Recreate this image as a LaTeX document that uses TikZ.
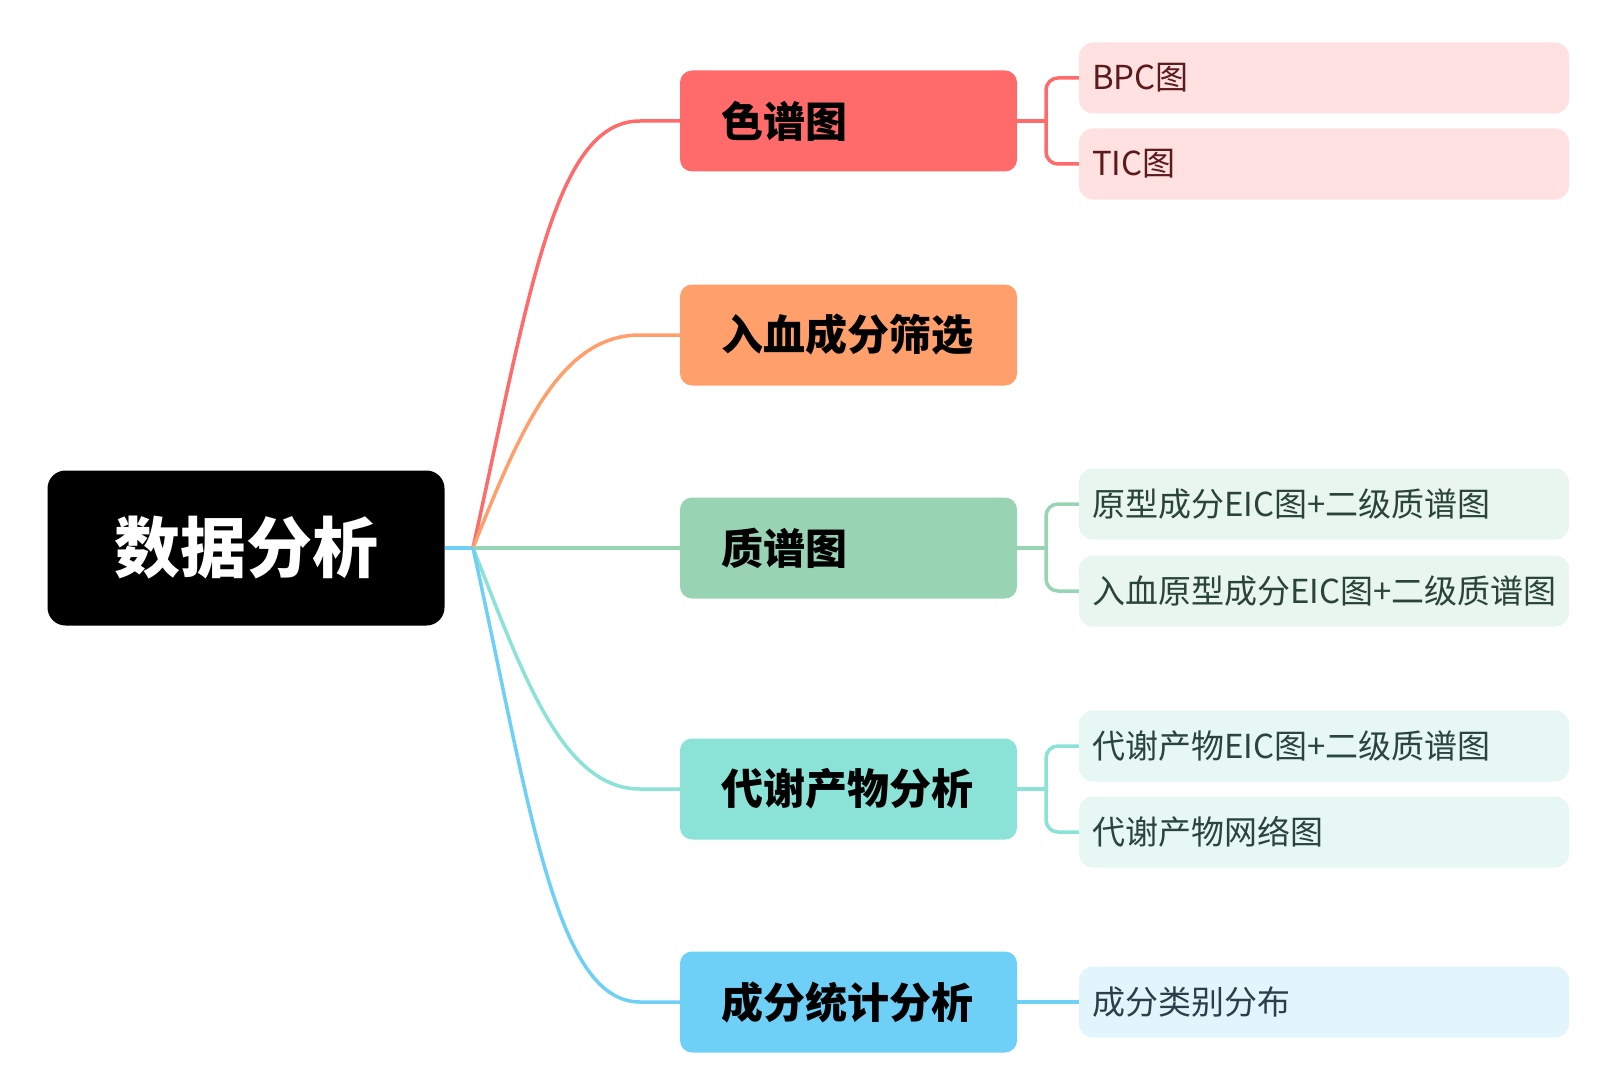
\documentclass[tikz,border=0pt]{standalone}
\usepackage{fontspec}
\setmainfont{Noto Sans CJK SC}
\definecolor{cRed}{HTML}{FF6B6B}
\definecolor{cOrange}{HTML}{FF9F6B}
\definecolor{cGreen}{HTML}{98D4B4}
\definecolor{cTeal}{HTML}{8BE2D6}
\definecolor{cBlue}{HTML}{6FD0F7}
\definecolor{fRed}{HTML}{FFE1E1}
\definecolor{fGreen}{HTML}{E9F6EF}
\definecolor{fTeal}{HTML}{E6F7F4}
\definecolor{fBlue}{HTML}{E2F5FC}
\definecolor{tRed}{HTML}{5C1A1A}
\definecolor{tGreen}{HTML}{2A4536}
\definecolor{tTeal}{HTML}{2A4540}
\definecolor{tBlue}{HTML}{2A4048}
\tikzset{
  rootbox/.style={fill=black, text=white, rounded corners=18pt, minimum width=397pt,
    minimum height=155pt, inner sep=0pt, font=\bfseries\fontsize{66}{66}\selectfont},
  lonebox/.style={rounded corners=12pt, minimum width=337pt, minimum height=101pt,
    inner xsep=41pt, inner ysep=0pt, text width=255pt, align=left,
    font=\bfseries\fontsize{42}{42}\selectfont},
  ltwobox/.style={rounded corners=14pt, minimum width=490pt, minimum height=71pt,
    inner xsep=13pt, inner ysep=0pt, text width=464pt, align=left,
    font=\fontsize{33}{33}\selectfont},
  conn/.style={line width=3.5pt},
  bconn/.style={line width=3.5pt, rounded corners=12pt}
}
\begin{document}
\begin{tikzpicture}[x=1pt,y=-1pt]
\useasboundingbox[fill=white] (0,0) rectangle (1620,1070);

% root
\node[rootbox] (root) at (246,548) {数据分析};
\coordinate (jn) at (473,548);

% level 1
\node[lonebox, fill=cRed]    (a) at (848.5,121) {色谱图};
\node[lonebox, fill=cOrange] (b) at (848.5,335) {入血成分筛选};
\node[lonebox, fill=cGreen]  (c) at (848.5,548) {质谱图};
\node[lonebox, fill=cTeal]   (d) at (848.5,789) {代谢产物分析};
\node[lonebox, fill=cBlue]   (e) at (848.5,1002) {成分统计分析};

% level 2
\node[ltwobox, fill=fRed, text=tRed]     (a1) at (1324,78)  {BPC图};
\node[ltwobox, fill=fRed, text=tRed]     (a2) at (1324,164) {TIC图};
\node[ltwobox, fill=fGreen, text=tGreen] (c1) at (1324,504) {原型成分EIC图+二级质谱图};
\node[ltwobox, fill=fGreen, text=tGreen] (c2) at (1324,591) {入血原型成分EIC图+二级质谱图};
\node[ltwobox, fill=fTeal, text=tTeal]   (d1) at (1324,746) {代谢产物EIC图+二级质谱图};
\node[ltwobox, fill=fTeal, text=tTeal]   (d2) at (1324,832) {代谢产物网络图};
\node[ltwobox, fill=fBlue, text=tBlue]   (e1) at (1324,1002) {成分类别分布};

% root connectors
\draw[conn, cBlue] (root.east) -- (jn);
\draw[conn, cRed]    (jn) .. controls (530,290) and (555,121) .. (640,121) -- (a.west);
\draw[conn, cOrange] (jn) .. controls (520,430) and (560,335) .. (640,335) -- (b.west);
\draw[conn, cGreen]  (jn) -- (c.west);
\draw[conn, cTeal]   (jn) .. controls (520,666) and (560,789) .. (640,789) -- (d.west);
\draw[conn, cBlue]   (jn) .. controls (530,806) and (555,1002) .. (640,1002) -- (e.west);

% level 2 connectors
\coordinate (ja) at (1046,121);
\coordinate (jc) at (1046,548);
\coordinate (jd) at (1046,789);
\draw[conn, cRed] (a.east) -- (ja);
\draw[bconn, cRed] (ja) |- (a1.west);
\draw[bconn, cRed] (ja) |- (a2.west);
\draw[conn, cGreen] (c.east) -- (jc);
\draw[bconn, cGreen] (jc) |- (c1.west);
\draw[bconn, cGreen] (jc) |- (c2.west);
\draw[conn, cTeal] (d.east) -- (jd);
\draw[bconn, cTeal] (jd) |- (d1.west);
\draw[bconn, cTeal] (jd) |- (d2.west);
\draw[conn, cBlue] (e.east) -- (e1.west);
\end{tikzpicture}
\end{document}
